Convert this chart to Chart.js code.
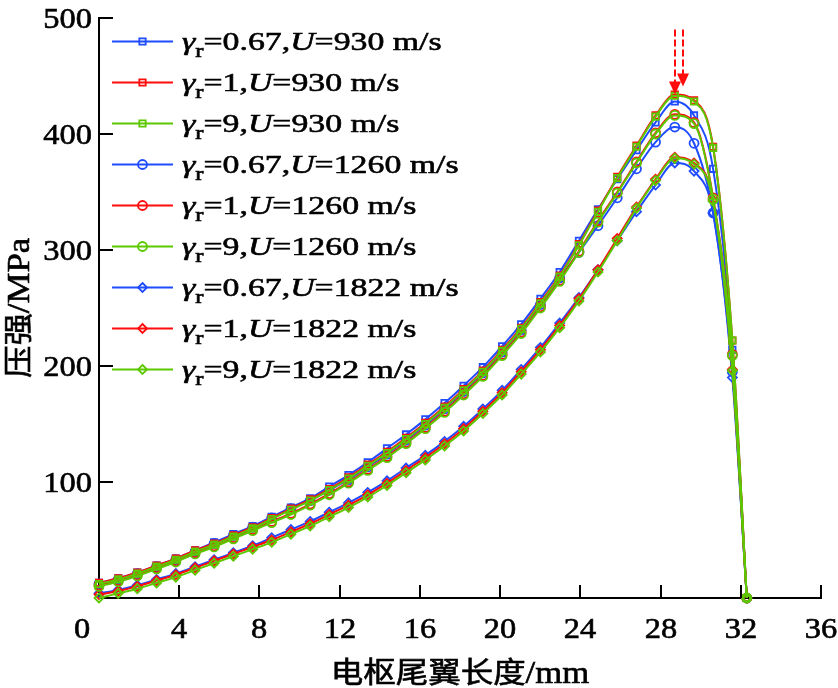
<!DOCTYPE html>
<html>
<head>
<meta charset="utf-8">
<title>压强分布</title>
<script src="https://cdn.jsdelivr.net/npm/chart.js@4.4.1/dist/chart.umd.min.js"></script>
<style>
  html, body { margin: 0; padding: 0; background: #fff; }
  #wadah { width: 838px; height: 688px; position: relative; }
  .pemanasHuruf { position: absolute; left: -9999px; top: 0; font-size: 20px; }
</style>
</head>
<body>
<div id="wadah"><canvas id="grafikTekanan" width="838" height="688"></canvas></div>
<span class="pemanasHuruf" style="font-family: 'Liberation Serif';">0123 m/s γ</span>
<span class="pemanasHuruf" style="font-family: 'Liberation Serif'; font-style: italic;">γU</span>
<span class="pemanasHuruf" style="font-family: 'Noto Sans CJK SC';">电枢尾翼长度压强</span>
<script>
// Posisi sepanjang ekor armature (mm)
const panjangEkor = [0, 0.96, 1.91, 2.87, 3.83, 4.79, 5.74, 6.70, 7.66, 8.61, 9.57, 10.53, 11.48, 12.44, 13.40,
    14.36, 15.31, 16.27, 17.23, 18.18, 19.14, 20.10, 21.05, 22.01, 22.97, 23.93, 24.88, 25.84, 26.80, 27.75,
    28.71, 29.67, 30.62, 31.58, 32.30];

// Parameter tiap kurva
const gammaR = ['0.67', '1', '9'];
const kecepatan = [930, 1260, 1822];

// Tekanan (MPa), U = 930 m/s
const tekananG067U930 = [13, 17, 22, 28, 34, 41, 48, 55, 62, 70, 78, 86, 96, 106, 117, 129, 141, 154, 168, 183,
    199, 217, 236, 258, 281, 308, 335, 361, 386, 410, 428, 416, 370, 214, 0];
const tekananG1U930 = [13, 17, 22, 28, 34, 41, 47, 54, 61, 69, 77, 85, 94, 104, 115, 126, 138, 151, 165, 180,
    196, 214, 233, 255, 278, 305, 334, 363, 390, 416, 434, 429, 389, 222, 0];
const tekananG9U930 = [12, 16, 21, 27, 33, 40, 46, 53, 60, 68, 76, 84, 93, 103, 114, 125, 137, 150, 164, 179,
    195, 213, 232, 254, 277, 304, 333, 362, 389, 415, 433, 428, 388, 222, 0];

// Tekanan (MPa), U = 1260 m/s
const tekananG067U1260 = [12, 16, 21, 27, 33, 40, 47, 54, 61, 69, 77, 84, 93, 102, 113, 124, 136, 149, 163, 178,
    194, 212, 231, 253, 276, 298, 321, 345, 370, 393, 406, 392, 332, 195, 0];
const tekananG1U1260 = [11, 15, 20, 26, 32, 39, 45, 52, 59, 66, 73, 81, 90, 100, 111, 122, 134, 147, 161, 176,
    192, 210, 229, 251, 274, 299, 325, 350, 376, 401, 417, 410, 345, 210, 0];
const tekananG9U1260 = [10, 14, 19, 25, 31, 38, 44, 51, 58, 65, 72, 80, 89, 99, 110, 121, 133, 146, 160, 175,
    191, 209, 228, 250, 273, 298, 324, 349, 375, 400, 416, 409, 344, 209, 0];

// Tekanan (MPa), U = 1822 m/s
const tekananG067U1822 = [4, 7, 11, 16, 21, 27, 33, 39, 45, 52, 59, 66, 74, 82, 91, 101, 112, 123, 135, 148,
    163, 179, 197, 216, 237, 259, 283, 308, 333, 356, 375, 368, 332, 190, 0];
const tekananG1U1822 = [3, 6, 10, 15, 20, 26, 32, 38, 44, 50, 57, 64, 72, 80, 89, 99, 110, 121, 133, 146,
    161, 177, 195, 214, 235, 258, 283, 310, 337, 361, 380, 375, 343, 197, 0];
const tekananG9U1822 = [0, 4, 8, 13, 18, 24, 30, 36, 42, 48, 55, 62, 70, 78, 87, 97, 108, 119, 131, 144,
    159, 175, 193, 212, 233, 256, 281, 308, 336, 360, 379, 374, 342, 196, 0];

// Tanda panah puncak (mm, MPa)
const panahX = [28.7, 29.1];
const panahPangkal = [490, 490];
const panahUjung = [434, 441];

// Label sumbu
const judulX = ['电枢尾翼长度', '/mm'];
const judulY = ['压强', '/MPa'];

// Gaya tampilan
const warnaGamma = ['#1f4cff', '#ff0d0d', '#5cc800'];
const urutanGamma = [2, 1, 0];
const bentukPenanda = ['rect', 'circle', 'rectRot'];
const hurufSerif = '"Liberation Serif", "Times New Roman", Tinos, serif';
const hurufCJK = '"Noto Sans CJK SC", sans-serif';

const semuaTekanan = [
    [tekananG067U930, tekananG1U930, tekananG9U930],
    [tekananG067U1260, tekananG1U1260, tekananG9U1260],
    [tekananG067U1822, tekananG1U1822, tekananG9U1822]
];

// Fungsi untuk menyusun dataset Chart.js
function buatDataset() {
    const hasil = [];
    kecepatan.forEach((u, iu) => {
        gammaR.forEach((g, ig) => {
            const nilai = semuaTekanan[iu][ig];
            hasil.push({
                label: 'γr=' + g + ',U=' + u + ' m/s',
                gamma: g,
                kecepatan: u,
                data: panjangEkor.map((x, i) => ({ x: x, y: nilai[i] })),
                borderColor: warnaGamma[ig],
                borderWidth: 2,
                pointStyle: bentukPenanda[iu],
                pointRadius: 4.5,
                pointBorderWidth: 1.8,
                pointBorderColor: warnaGamma[ig],
                pointBackgroundColor: 'rgba(255,255,255,0)',
                cubicInterpolationMode: 'monotone',
                order: urutanGamma[ig],
                clip: false
            });
        });
    });
    return hasil;
}

// Fungsi untuk menulis teks yang sedikit melebar dan tebal (seperti gambar asli)
function tulisGabungan(ctx, bagian, x, y, skala, rata, sudut) {
    ctx.save();
    ctx.translate(x, y);
    if (sudut) ctx.rotate(sudut);
    ctx.scale(skala, 1);
    ctx.textAlign = 'left';
    ctx.textBaseline = 'alphabetic';
    ctx.strokeStyle = ctx.fillStyle;
    ctx.lineWidth = 0.6;
    let total = 0;
    bagian.forEach(b => { ctx.font = b.font; total += ctx.measureText(b.teks).width; });
    let pos = rata === 'center' ? -total / 2 : (rata === 'right' ? -total : 0);
    bagian.forEach(b => {
        ctx.font = b.font;
        ctx.fillText(b.teks, pos, b.dy || 0);
        ctx.strokeText(b.teks, pos, b.dy || 0);
        pos += ctx.measureText(b.teks).width;
    });
    ctx.restore();
}

// Fungsi untuk menggambar penanda kecil di legenda
function gambarPenanda(ctx, bentuk, x, y, r) {
    ctx.beginPath();
    if (bentuk === 'rect') {
        const s = r * Math.SQRT1_2;
        ctx.rect(x - s, y - s, 2 * s, 2 * s);
    } else if (bentuk === 'circle') {
        ctx.arc(x, y, r, 0, Math.PI * 2);
    } else {
        ctx.moveTo(x, y - r);
        ctx.lineTo(x + r, y);
        ctx.lineTo(x, y + r);
        ctx.lineTo(x - r, y);
        ctx.closePath();
    }
    ctx.stroke();
}

const pluginTambahan = {
    id: 'pluginTambahan',
    afterDraw(chart) {
        const ctx = chart.ctx;
        const sx = chart.scales.x;
        const sy = chart.scales.y;
        const area = chart.chartArea;
        const fontTick = '29px ' + hurufSerif;

        ctx.save();
        ctx.strokeStyle = '#000';
        ctx.fillStyle = '#000';
        ctx.lineWidth = 2;

        // Garis tick ke dalam dan label sumbu X
        sx.ticks.forEach(t => {
            const px = Math.round(sx.getPixelForValue(t.value));
            if (t.value !== 0) {
                ctx.strokeStyle = '#000';
                ctx.lineWidth = 2;
                ctx.beginPath();
                ctx.moveTo(px, area.bottom);
                ctx.lineTo(px, area.bottom - 13);
                ctx.stroke();
            }
            const geser = t.value === 0 ? -17 : 0;
            tulisGabungan(ctx, [{ teks: String(t.value), font: fontTick }], px + geser, 638, 1.12, 'center');
        });

        // Garis tick ke dalam dan label sumbu Y
        sy.ticks.forEach(t => {
            if (t.value === 0) return;
            const py = Math.round(sy.getPixelForValue(t.value));
            ctx.strokeStyle = '#000';
            ctx.lineWidth = 2;
            ctx.beginPath();
            ctx.moveTo(area.left, py);
            ctx.lineTo(area.left + 14, py);
            ctx.stroke();
            tulisGabungan(ctx, [{ teks: String(t.value), font: fontTick }], area.left - 7, py + 10, 1.12, 'right');
        });

        // Judul sumbu
        tulisGabungan(ctx, [
            { teks: judulX[0], font: '29px ' + hurufCJK },
            { teks: judulX[1], font: '31px ' + hurufSerif }
        ], (area.left + area.right) / 2, 683, 1.12, 'center');
        tulisGabungan(ctx, [
            { teks: judulY[0], font: '29px ' + hurufCJK },
            { teks: judulY[1], font: '31px ' + hurufSerif }
        ], 29, (area.top + area.bottom) / 2, 1.12, 'center', -Math.PI / 2);

        // Legenda di dalam area grafik
        chart.data.datasets.forEach((ds, i) => {
            const y = 41.5 + i * 41;
            ctx.strokeStyle = ds.borderColor;
            ctx.lineWidth = 2;
            ctx.beginPath();
            ctx.moveTo(112, y);
            ctx.lineTo(173, y);
            ctx.stroke();
            ctx.lineWidth = 1.8;
            gambarPenanda(ctx, ds.pointStyle, 142.5, y, 4.5);
            ctx.fillStyle = '#000';
            tulisGabungan(ctx, [
                { teks: 'γ', font: 'italic 26px ' + hurufSerif },
                { teks: 'r', font: '19px ' + hurufSerif, dy: 7 },
                { teks: '=' + ds.gamma + ',', font: '26px ' + hurufSerif },
                { teks: 'U', font: 'italic 26px ' + hurufSerif },
                { teks: '=' + ds.kecepatan + ' m/s', font: '26px ' + hurufSerif }
            ], 182, y + 8.5, 1.3, 'left');
        });

        // Panah merah putus-putus penanda puncak
        ctx.strokeStyle = '#ff0d0d';
        ctx.fillStyle = '#ff0d0d';
        panahX.forEach((x, i) => {
            const px = Math.round(sx.getPixelForValue(x));
            const yAtas = sy.getPixelForValue(panahPangkal[i]);
            const yUjung = sy.getPixelForValue(panahUjung[i]);
            ctx.lineWidth = 2;
            ctx.setLineDash([7, 3]);
            ctx.beginPath();
            ctx.moveTo(px, yAtas);
            ctx.lineTo(px, yUjung - 12);
            ctx.stroke();
            ctx.setLineDash([]);
            ctx.beginPath();
            ctx.moveTo(px - 6, yUjung - 13);
            ctx.lineTo(px + 6, yUjung - 13);
            ctx.lineTo(px, yUjung);
            ctx.closePath();
            ctx.fill();
        });
        ctx.restore();
    }
};

// Fungsi untuk membuat grafik setelah huruf siap
function buatGrafik() {
    const ctx = document.getElementById('grafikTekanan').getContext('2d');
    new Chart(ctx, {
        type: 'line',
        data: { datasets: buatDataset() },
        options: {
            responsive: false,
            animation: false,
            devicePixelRatio: 1,
            layout: { padding: { left: 99, right: 17, top: 18, bottom: 90 } },
            plugins: { legend: { display: false }, tooltip: { enabled: false } },
            scales: {
                x: {
                    type: 'linear',
                    min: 0,
                    max: 36,
                    ticks: { stepSize: 4, display: false },
                    grid: { drawOnChartArea: false, drawTicks: false },
                    border: { color: '#000', width: 2 }
                },
                y: {
                    type: 'linear',
                    min: 0,
                    max: 500,
                    ticks: { stepSize: 100, display: false },
                    grid: { drawOnChartArea: false, drawTicks: false },
                    border: { color: '#000', width: 2 }
                }
            }
        },
        plugins: [pluginTambahan]
    });
}

document.addEventListener('DOMContentLoaded', function () {
    const muat = [
        '29px "Liberation Serif"',
        'italic 26px "Liberation Serif"',
        '29px "Noto Sans CJK SC"'
    ].map(f => document.fonts.load(f, 'γU0123电'));
    Promise.all(muat).then(buatGrafik, buatGrafik);
});
</script>
</body>
</html>
